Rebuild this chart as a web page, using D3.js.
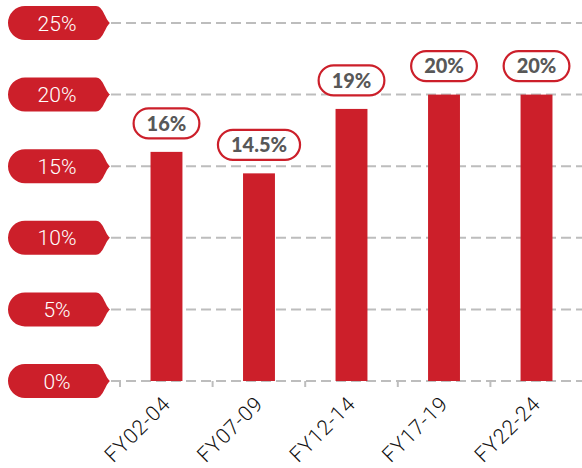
<!DOCTYPE html>
<html><head><meta charset="utf-8">
<script src="https://cdn.jsdelivr.net/npm/d3@7"></script>
<style>html,body{margin:0;padding:0;background:#fff}svg{display:block}</style>
</head><body>
<svg id="c" width="582" height="468"></svg>
<script>
const categories = ["FY02-04","FY07-09","FY12-14","FY17-19","FY22-24"];
const values = [16, 14.5, 19, 20, 20];
const valueLabels = ["16%","14.5%","19%","20%","20%"];
const yTicks = [0,5,10,15,20,25];
const yTickLabels = ["0%","5%","10%","15%","20%","25%"];

const red = "#cc1f2a";
const svg = d3.select("#c");
const y = d3.scaleLinear().domain([0,25]).range([381,23]);
const x = d3.scaleBand().domain(categories).range([120,583]).paddingInner(0.655).paddingOuter(0.33);

// gridlines
svg.append("g").selectAll("line").data(yTicks).join("line")
  .attr("x1",111).attr("x2",582)
  .attr("y1",d=>y(d)).attr("y2",d=>y(d))
  .attr("stroke","#bdbdbd").attr("stroke-width",2).attr("stroke-dasharray","10,5");

// x axis ticks at band boundaries
const bounds = d3.range(categories.length+1).map(i=>x.range()[0]+i*((x.range()[1]-x.range()[0])/categories.length));
svg.append("g").selectAll("line").data(bounds).join("line")
  .attr("x1",d=>d).attr("x2",d=>d).attr("y1",381).attr("y2",387)
  .attr("stroke","#bdbdbd").attr("stroke-width",2);

// y pills
const pillL=8, pillR=96, tip=110, ph=34, r=17;
const yp = svg.append("g").selectAll("g").data(yTicks).join("g")
  .attr("transform",d=>`translate(0,${y(d)})`);
yp.append("path")
  .attr("d",()=>{const t=-ph/2,b=ph/2;
    return `M${pillL+r},${t} H${pillR} C${pillR+7},${t} ${tip-5},${-4} ${tip},0 C${tip-5},4 ${pillR+7},${b} ${pillR},${b} H${pillL+r} A${r},${r} 0 0 1 ${pillL+r},${t} Z`;})
  .attr("fill",red);
yp.append("text").attr("x",57).attr("y",0).attr("dy","0.36em")
  .attr("text-anchor","middle").attr("fill","#fff")
  .attr("font-family","Roboto, sans-serif").attr("font-weight",300).attr("font-size",21)
  .text((d,i)=>yTickLabels[i]);

// bars
svg.append("g").selectAll("rect").data(values).join("rect")
  .attr("x",(d,i)=>x(categories[i])).attr("width",x.bandwidth())
  .attr("y",d=>y(d)).attr("height",d=>y(0)-y(d))
  .attr("fill",red);

// value labels
const vl = svg.append("g").selectAll("g").data(values).join("g")
  .attr("transform",(d,i)=>`translate(${x(categories[i])+x.bandwidth()/2},${y(d)-28.5})`);
vl.each(function(d,i){
  const g=d3.select(this);
  const t=g.append("text").attr("text-anchor","middle").attr("dy","0.36em")
    .attr("fill","#585858").attr("font-family","Lato, sans-serif").attr("font-weight",900)
    .attr("font-size",20).text(valueLabels[i]);
  const w=t.node().getComputedTextLength()+26, h=30;
  g.insert("rect","text").attr("x",-w/2).attr("y",-h/2).attr("width",w).attr("height",h)
    .attr("rx",h/2).attr("fill","#fff").attr("stroke",red).attr("stroke-width",2.2);
});

// x labels
svg.append("g").selectAll("text").data(categories).join("text")
  .attr("transform",d=>`translate(${x(d)+x.bandwidth()/2},${400}) rotate(-45)`)
  .attr("text-anchor","end").attr("dy","0.35em")
  .attr("font-family","Roboto, sans-serif").attr("font-weight",300).attr("font-size",21)
  .attr("letter-spacing",0.8).attr("fill","#111")
  .text(d=>d);
</script>
</body></html>
